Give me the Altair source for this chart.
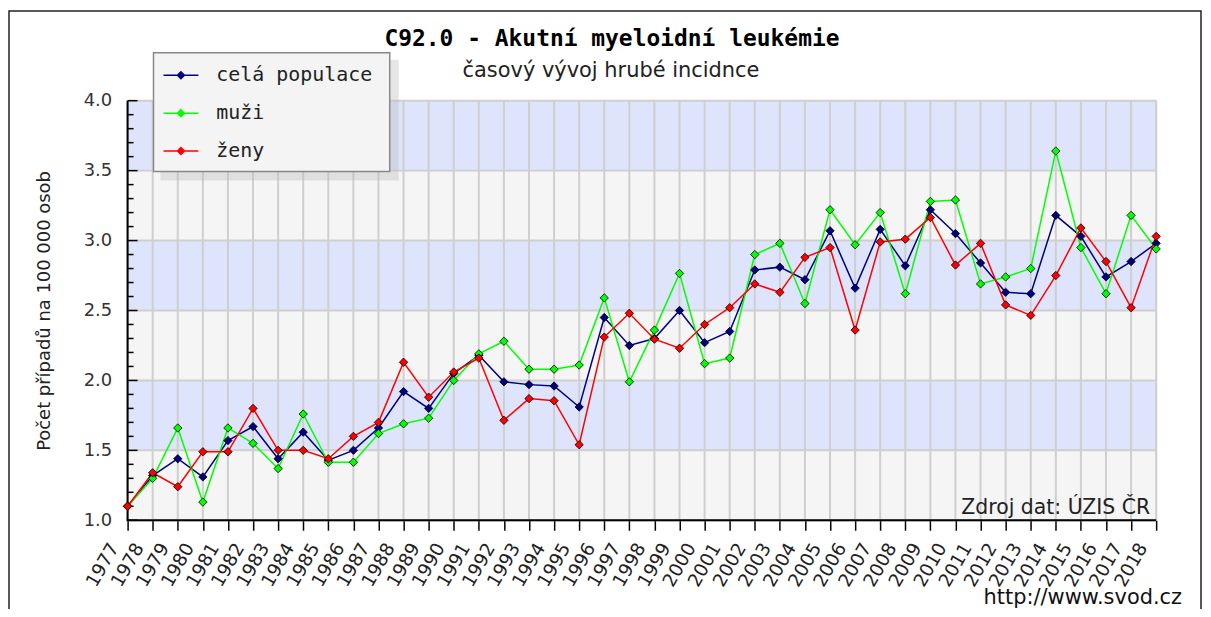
import altair as alt
import pandas as pd

# ---------------- data ----------------
years = list(range(1977, 2019))
series_names = ["celá populace", "muži", "ženy"]
series_colors = ["#000080", "#00ff00", "#ff0000"]

cela = [1.10, 1.32, 1.44, 1.31, 1.57, 1.67, 1.44, 1.63, 1.43, 1.50, 1.66, 1.92, 1.80, 2.05,
        2.18, 1.99, 1.97, 1.96, 1.81, 2.45, 2.25, 2.30, 2.50, 2.27, 2.35, 2.79, 2.81, 2.72,
        3.07, 2.66, 3.08, 2.82, 3.22, 3.05, 2.84, 2.63, 2.62, 3.18, 3.03, 2.74, 2.85, 2.98]
muzi = [1.10, 1.30, 1.66, 1.13, 1.66, 1.55, 1.37, 1.76, 1.415, 1.415, 1.62, 1.69, 1.73, 2.00,
        2.19, 2.28, 2.08, 2.08, 2.11, 2.59, 1.99, 2.36, 2.765, 2.12, 2.16, 2.90, 2.98, 2.55,
        3.22, 2.97, 3.20, 2.62, 3.28, 3.29, 2.69, 2.74, 2.80, 3.64, 2.95, 2.62, 3.18, 2.94]
zeny = [1.10, 1.34, 1.24, 1.49, 1.49, 1.80, 1.50, 1.50, 1.44, 1.60, 1.70, 2.13, 1.88, 2.06,
        2.16, 1.715, 1.87, 1.855, 1.54, 2.31, 2.48, 2.295, 2.23, 2.40, 2.52, 2.69, 2.63, 2.88,
        2.95, 2.36, 2.99, 3.01, 3.165, 2.825, 2.98, 2.54, 2.465, 2.75, 3.09, 2.85, 2.52, 3.03]

y_major = [1.0, 1.5, 2.0, 2.5, 3.0, 3.5, 4.0]
y_minor = [1.1, 1.2, 1.3, 1.4, 1.6, 1.7, 1.8, 1.9, 2.1, 2.2, 2.3, 2.4, 2.6, 2.7, 2.8, 2.9,
           3.1, 3.2, 3.3, 3.4, 3.6, 3.7, 3.8, 3.9]
band_lo = [1.0, 1.5, 2.0, 2.5, 3.0, 3.5]
band_hi = [1.5, 2.0, 2.5, 3.0, 3.5, 4.0]
band_fill = ["#f5f5f5", "#dde4fb", "#f5f5f5", "#dde4fb", "#f5f5f5", "#dde4fb"]

title_text = "C92.0 - Akutní myeloidní leukémie"
subtitle_text = "časový vývoj hrubé incidnce"
source_text = "Zdroj dat: ÚZIS ČR"
url_text = "http://www.svod.cz"
y_title = "Počet případů na 100 000 osob"

W, H = 1032, 421

rows = []
for name, vals in zip(series_names, [cela, muzi, zeny]):
    for yr, v in zip(years, vals):
        rows.append({"year": yr, "value": v, "series": name})
df = pd.DataFrame(rows)

bands = pd.DataFrame({"lo": band_lo, "hi": band_hi, "fill": band_fill})
vgrid = pd.DataFrame({"year": years})
hgrid = pd.DataFrame({"v": y_major})
minor = pd.DataFrame({"v": y_minor})
one = pd.DataFrame({"a": [0]})

xscale = alt.Scale(domain=[1977, 2018], nice=False, zero=False)
yscale = alt.Scale(domain=[1.0, 4.0], nice=False, zero=False)

xaxis = alt.Axis(
    values=years, format="d", labelAngle=300, labelAlign="right", labelBaseline="middle",
    labelFont="DejaVu Sans", labelFontSize=18.5, labelColor="#222222", labelOverlap=False,
    labelPadding=14, labelOffset=-14, labelFlush=False,
    tickSize=10, tickColor="black", tickWidth=1.5, domain=False, grid=False, title=None)
yaxis = alt.Axis(
    values=y_major, format=".1f", ticks=False, domain=False, grid=False,
    labelFont="DejaVu Sans", labelFontSize=18, labelColor="#333333", labelPadding=16,
    title=y_title, titleFont="DejaVu Sans", titleFontSize=18, titleFontWeight="normal",
    titleColor="#222222", titleX=-83, titleY=H / 2, titleAngle=270, titleBaseline="middle",
    titleAlign="center")

band_layer = alt.Chart(bands).mark_rect().encode(
    x=alt.value(0), x2=alt.value(W),
    y=alt.Y("lo:Q", scale=yscale, axis=yaxis), y2="hi:Q",
    fill=alt.Fill("fill:N", scale=None),
)
vgrid_layer = alt.Chart(vgrid).mark_rule(color="#cfcfcf", strokeWidth=2).encode(
    x=alt.X("year:Q", scale=xscale, axis=xaxis),
    y=alt.value(0), y2=alt.value(H),
)
hgrid_layer = alt.Chart(hgrid).mark_rule(color="#cfcfcf", strokeWidth=2).encode(
    y=alt.Y("v:Q", scale=yscale, axis=yaxis),
    x=alt.value(0), x2=alt.value(W),
)
major_ticks = alt.Chart(hgrid).mark_rule(color="black", strokeWidth=1.5).encode(
    y=alt.Y("v:Q", scale=yscale, axis=yaxis),
    x=alt.value(0), x2=alt.value(10),
)
minor_ticks = alt.Chart(minor).mark_rule(color="black", strokeWidth=1.5).encode(
    y=alt.Y("v:Q", scale=yscale, axis=yaxis),
    x=alt.value(0), x2=alt.value(6),
)
y_domain = alt.Chart(one).mark_rule(color="black", strokeWidth=2).encode(
    x=alt.value(0), y=alt.value(0), y2=alt.value(H)
)
x_domain = alt.Chart(one).mark_rule(color="black", strokeWidth=2).encode(
    x=alt.value(-1), x2=alt.value(W), y=alt.value(H)
)

legend_path = "M-1,0H1M0,-0.2L0.2,0L0,0.2L-0.2,0Z"

lines = alt.Chart(df).mark_line(
    strokeWidth=1.5,
    point=alt.OverlayMarkDef(shape="diamond", filled=True, size=70, stroke="black", strokeWidth=0.8),
).encode(
    x=alt.X("year:Q", scale=xscale, axis=xaxis),
    y=alt.Y("value:Q", scale=yscale, axis=yaxis),
    color=alt.Color("series:N", scale=alt.Scale(domain=series_names, range=series_colors),
                    sort=series_names,
                    legend=alt.Legend(
                        orient="none", legendX=26, legendY=-51, title=None,
                        symbolType=legend_path, symbolSize=1225, symbolStrokeWidth=1.5,
                        labelFont="DejaVu Sans Mono", labelFontSize=20, labelColor="#222222",
                        labelOffset=17, symbolOffset=2, padding=7, rowPadding=9)),
)

# legend frame (box + soft shadow) drawn behind the legend entries
legend_shadow = alt.Chart(one).mark_rect(fill="#b8b8b8", opacity=0.35).encode(
    x=alt.value(33), x2=alt.value(272), y=alt.value(-41), y2=alt.value(80)
)
legend_box = alt.Chart(one).mark_rect(fill="#f4f4f4", stroke="#888888", strokeWidth=1.5).encode(
    x=alt.value(26), x2=alt.value(263), y=alt.value(-48), y2=alt.value(71)
)

frame = alt.Chart(one).mark_rect(fillOpacity=0, stroke="#222222", strokeWidth=1.5).encode(
    x=alt.value(-119), x2=alt.value(W + 45), y=alt.value(-90), y2=alt.value(H + 150)
)

title = alt.Chart(pd.DataFrame({"t": [title_text]})).mark_text(
    font="DejaVu Sans Mono", fontSize=23, fontWeight="bold", color="black", align="center",
    baseline="alphabetic").encode(text="t:N", x=alt.value(486), y=alt.value(-55))
subtitle = alt.Chart(pd.DataFrame({"t": [subtitle_text]})).mark_text(
    font="DejaVu Sans", fontSize=21, color="#222222", align="center",
    baseline="alphabetic").encode(text="t:N", x=alt.value(485), y=alt.value(-24))
source = alt.Chart(pd.DataFrame({"t": [source_text]})).mark_text(
    font="DejaVu Sans", fontSize=20.5, color="#222222", align="right",
    baseline="alphabetic").encode(text="t:N", x=alt.value(W - 6), y=alt.value(H - 6))
url = alt.Chart(pd.DataFrame({"t": [url_text]})).mark_text(
    font="DejaVu Sans", fontSize=21, color="#111111", align="right",
    baseline="alphabetic").encode(text="t:N", x=alt.value(W + 26), y=alt.value(H + 84))

chart = alt.layer(
    frame, band_layer, vgrid_layer, hgrid_layer, y_domain, x_domain, major_ticks, minor_ticks,
    legend_shadow, legend_box, lines, title, subtitle, source, url,
).properties(
    width=W, height=H,
    padding={"left": 120, "top": 92, "right": 47, "bottom": 88},
    autosize=alt.AutoSizeParams(type="none"),
).configure_view(stroke=None).configure(background="white")

chart.save("out.html", embed_options={"renderer": "svg", "actions": False})
